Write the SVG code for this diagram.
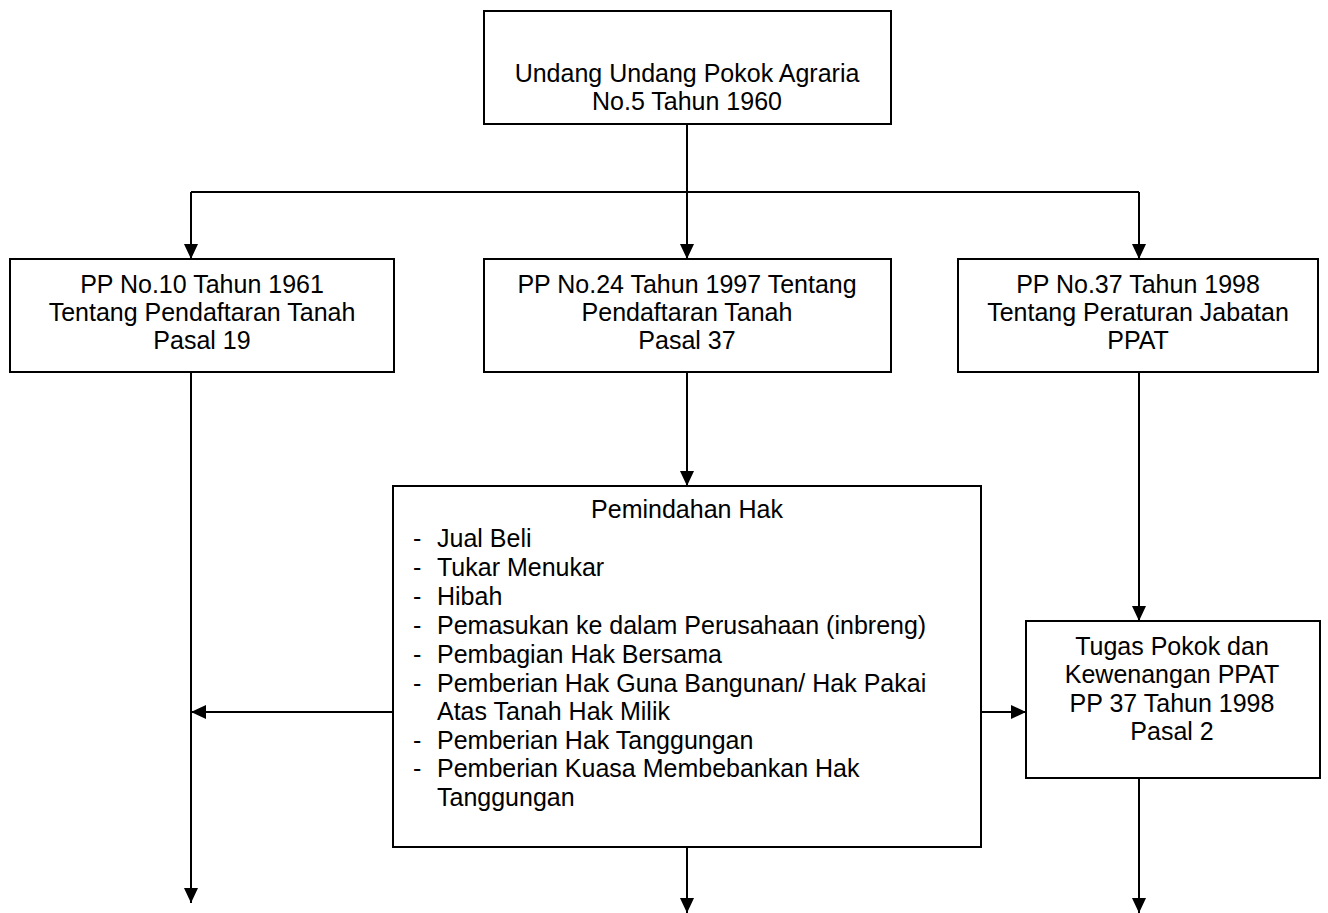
<svg xmlns="http://www.w3.org/2000/svg" width="1328" height="913" viewBox="0 0 1328 913">
<defs>
<marker id="ah" markerUnits="userSpaceOnUse" markerWidth="15" markerHeight="15" refX="15" refY="7" orient="auto" viewBox="0 0 15 14">
<path d="M0,0 L15,7 L0,14 z" fill="#000"/>
</marker>
<style>
.box{fill:#fff;stroke:#000;stroke-width:2}
.t{font-family:"Liberation Sans",Arial,sans-serif;font-size:25px;fill:#000}
.c{text-anchor:middle}
.ln{fill:none;stroke:#000;stroke-width:2}
.ar{marker-end:url(#ah)}
</style>
</defs>
<rect width="1328" height="913" fill="#fff"/>
<g id="connectors">
<path class="ln" d="M687,124 V192"/>
<path class="ln" d="M191,192 H1139"/>
<path class="ln ar" d="M191,192 V259"/>
<path class="ln ar" d="M687,192 V259"/>
<path class="ln ar" d="M1139,192 V259"/>
<path class="ln ar" d="M191,372 V903"/>
<path class="ln ar" d="M687,372 V486"/>
<path class="ln ar" d="M1139,372 V621"/>
<path class="ln ar" d="M393,712 H191"/>
<path class="ln ar" d="M981,712 H1026"/>
<path class="ln ar" d="M687,847 V913"/>
<path class="ln ar" d="M1139,778 V913"/>
</g>
<g id="uupa">
<rect class="box" x="484" y="11" width="407" height="113"/>
<text class="t c" x="687" y="82">Undang Undang Pokok Agraria</text>
<text class="t c" x="687" y="110">No.5 Tahun 1960</text>
</g>
<g id="pp10">
<rect class="box" x="10" y="259" width="384" height="113"/>
<text class="t c" x="202" y="293">PP No.10 Tahun 1961</text>
<text class="t c" x="202" y="321">Tentang Pendaftaran Tanah</text>
<text class="t c" x="202" y="349">Pasal 19</text>
</g>
<g id="pp24">
<rect class="box" x="484" y="259" width="407" height="113"/>
<text class="t c" x="687" y="293">PP No.24 Tahun 1997 Tentang</text>
<text class="t c" x="687" y="321">Pendaftaran Tanah</text>
<text class="t c" x="687" y="349">Pasal 37</text>
</g>
<g id="pp37">
<rect class="box" x="958" y="259" width="360" height="113"/>
<text class="t c" x="1138" y="293">PP No.37 Tahun 1998</text>
<text class="t c" x="1138" y="321">Tentang Peraturan Jabatan</text>
<text class="t c" x="1138" y="349">PPAT</text>
</g>
<g id="pemindahan">
<rect class="box" x="393" y="486" width="588" height="361"/>
<text class="t c" x="687" y="518">Pemindahan Hak</text>
<g class="t">
<text x="413" y="547">-</text><text x="437" y="547">Jual Beli</text>
<text x="413" y="576">-</text><text x="437" y="576">Tukar Menukar</text>
<text x="413" y="605">-</text><text x="437" y="605">Hibah</text>
<text x="413" y="634">-</text><text x="437" y="634">Pemasukan ke dalam Perusahaan (inbreng)</text>
<text x="413" y="663">-</text><text x="437" y="663">Pembagian Hak Bersama</text>
<text x="413" y="692">-</text><text x="437" y="692">Pemberian Hak Guna Bangunan/ Hak Pakai</text>
<text x="437" y="720">Atas Tanah Hak Milik</text>
<text x="413" y="749">-</text><text x="437" y="749">Pemberian Hak Tanggungan</text>
<text x="413" y="777">-</text><text x="437" y="777">Pemberian Kuasa Membebankan Hak</text>
<text x="437" y="806">Tanggungan</text>
</g>
</g>
<g id="tugas">
<rect class="box" x="1026" y="621" width="294" height="157"/>
<text class="t c" x="1172" y="655">Tugas Pokok dan</text>
<text class="t c" x="1172" y="683">Kewenangan PPAT</text>
<text class="t c" x="1172" y="712">PP 37 Tahun 1998</text>
<text class="t c" x="1172" y="740">Pasal 2</text>
</g>
</svg>
